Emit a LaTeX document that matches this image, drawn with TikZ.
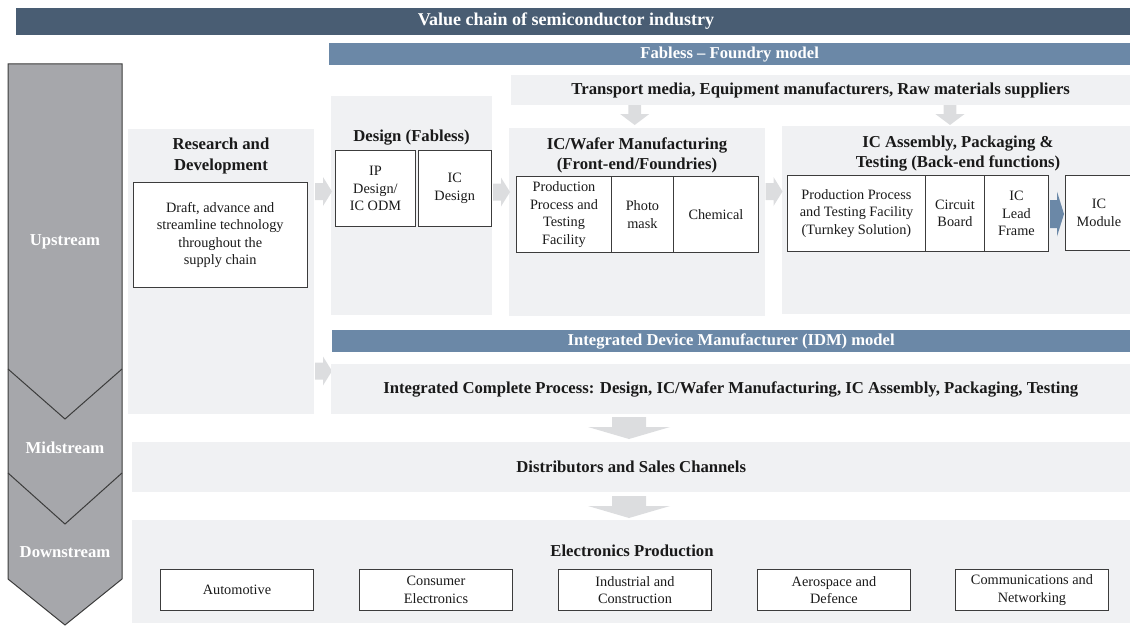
\documentclass[tikz,border=0pt]{standalone}
\usepackage{fontspec}
\setmainfont{Liberation Serif}
\definecolor{titlebar}{HTML}{495D73}
\definecolor{bluebar}{HTML}{6B88A7}
\definecolor{panelc}{HTML}{F0F1F3}
\definecolor{arrowc}{HTML}{DCDDDF}
\definecolor{chevc}{HTML}{A6A7AB}
\definecolor{boxc}{HTML}{3C3C3C}
\definecolor{txtc}{HTML}{1A1A1A}
\newcommand\bodyf{\fontsize{14.3}{17.5}\selectfont}
\newcommand\headf{\fontsize{16.7}{20.5}\selectfont\bfseries}
\newcommand\barf{\fontsize{16.6}{19}\selectfont\bfseries}
\begin{document}
\begin{tikzpicture}[x=1pt,y=-1pt,
  panel/.style={fill=panelc, inner sep=0pt, anchor=north west, font=\headf, text=txtc, align=center},
  bar/.style={fill=bluebar, inner sep=0pt, anchor=north west, font=\barf, text=white},
  box/.style={draw=boxc, fill=white, line width=0.9pt, inner sep=0pt, anchor=north west, align=center, font=\bodyf, text=txtc},
  head/.style={font=\headf, align=center, text=txtc, inner sep=0pt},
  stream/.style={font=\headf, text=white, inner sep=0pt},
  rarr/.pic={\fill[arrowc] (0,-8.5) -- (8,-8.5) -- (8,-14.5) -- (17,0) -- (8,14.5) -- (8,8.5) -- (0,8.5) -- cycle;},
  sdarr/.pic={\fill[arrowc] (-6.3,0) -- (6.3,0) -- (6.3,9) -- (14.6,9) -- (0,20) -- (-14.6,9) -- (-6.3,9) -- cycle;},
  bdarr/.pic={\fill[arrowc] (-17,0) -- (17,0) -- (17,10) -- (41,10) -- (0,22) -- (-41,10) -- (-17,10) -- cycle;},
  barr/.pic={\fill[bluebar] (0,-14) -- (7,-14) -- (7,-22.5) -- (14,0) -- (7,22.5) -- (7,14) -- (0,14) -- cycle;}
]
\useasboundingbox (0,0) rectangle (1130,626);

% title bar
\node[anchor=north west, fill=titlebar, inner sep=0pt, minimum width=1114pt, minimum height=27pt] (titlebar) at (16,8) {};
\node[font=\fontsize{18}{20}\selectfont\bfseries, text=white, inner sep=0pt] (titletext) at (566,21.5) {Value chain of semiconductor industry};

% chevron
\fill[chevc] (8,64) -- (122,64) -- (122,579) -- (65,625) -- (8,579) -- cycle;
\draw[boxc, line width=1pt] (8,64) -- (122,64) -- (122,579) -- (65,625) -- (8,579) -- cycle;
\draw[boxc, line width=1pt] (8,369) -- (65,419) -- (122,369);
\draw[boxc, line width=1pt] (8,473) -- (65,524) -- (122,473);
\node[stream] (up) at (65,242) {Upstream};
\node[stream] (mid) at (65,448) {Midstream};
\node[stream] (down) at (65,552) {Downstream};

% fabless bar and transport
\node[bar, minimum width=801pt, minimum height=22pt] (fabless) at (329,43) {Fabless -- Foundry model};
\node[panel, minimum width=619pt, minimum height=30pt] (transport) at (511,75) {Transport media, Equipment manufacturers, Raw materials suppliers};
\pic at (634.7,105) {sdarr};
\pic at (950,105) {sdarr};

% R&D
\node[panel, minimum width=186.5pt, minimum height=285pt] (rd) at (127.5,129) {};
\node[head] (rdt) at (221,156) {Research and\\Development};
\node[box, minimum width=174.5pt, minimum height=105pt] (rdbox) at (132.5,182) {Draft, advance and\\streamline technology\\throughout the\\supply chain};

% Design
\node[panel, minimum width=161pt, minimum height=219pt] (des) at (331,96) {};
\node[head] (dest) at (411.5,138) {Design (Fabless)};
\node[box, minimum width=80pt, minimum height=76pt] (ipd) at (335,150) {IP\\Design/\\IC ODM};
\node[box, minimum width=73.5pt, minimum height=76pt] (icd) at (417.5,150) {IC\\Design};

% IC/Wafer
\node[panel, minimum width=256pt, minimum height=188pt] (waf) at (509,128) {};
\node[head] (waft) at (637,155.5) {IC/Wafer Manufacturing\\(Front-end/Foundries)};
\node[box, minimum width=95pt, minimum height=76pt] (w1) at (516,176) {Production\\Process and\\Testing\\Facility};
\node[box, minimum width=62pt, minimum height=76pt] (w2) at (611,176) {Photo\\mask};
\node[box, minimum width=85pt, minimum height=76pt] (w3) at (673,176) {Chemical};

% Assembly
\node[panel, minimum width=348pt, minimum height=188pt] (asm) at (782,126) {};
\node[head] (asmt) at (958,153.5) {IC Assembly, Packaging \&\\Testing (Back-end functions)};
\node[box, minimum width=138pt, minimum height=76pt] (a1) at (787,175) {Production Process\\and Testing Facility\\(Turnkey Solution)};
\node[box, minimum width=59pt, minimum height=76pt] (a2) at (925,175) {Circuit\\Board};
\node[box, minimum width=64pt, minimum height=76pt] (a3) at (984,175) {IC\\Lead\\Frame};
\node[box, minimum width=67pt, minimum height=75pt] (icm) at (1065,175) {IC\\Module};

% horizontal arrows
\pic at (315,191.5) {rarr};
\pic at (493,192) {rarr};
\pic at (765.5,191.5) {rarr};
\pic at (315,371) {rarr};
\pic at (1050,214) {barr};

% IDM
\node[bar, minimum width=798pt, minimum height=22pt] (idm) at (332,330) {Integrated Device Manufacturer (IDM) model};
\node[panel, minimum width=799pt, minimum height=50pt] (integ) at (331,364) {Integrated Complete Process: Design, IC/Wafer Manufacturing, IC Assembly, Packaging, Testing};
\pic at (629,417) {bdarr};

% distributors
\node[panel, minimum width=998pt, minimum height=50pt] (dist) at (132,442) {Distributors and Sales Channels};
\pic at (629,496) {bdarr};

% electronics
\node[panel, minimum width=998pt, minimum height=103pt] (elec) at (132,520) {};
\node[head] (elect) at (632,551) {Electronics Production};
\node[box, minimum width=153pt, minimum height=41pt] (b1) at (160,569) {Automotive};
\node[box, minimum width=153pt, minimum height=41pt] (b2) at (359,569) {Consumer\\Electronics};
\node[box, minimum width=153pt, minimum height=41pt] (b3) at (558,569) {Industrial and\\Construction};
\node[box, minimum width=153pt, minimum height=41pt] (b4) at (757,569) {Aerospace and\\Defence};
\node[box, minimum width=153pt, minimum height=41pt] (b5) at (955,569) {Communications and\\Networking};
\end{tikzpicture}
\end{document}
